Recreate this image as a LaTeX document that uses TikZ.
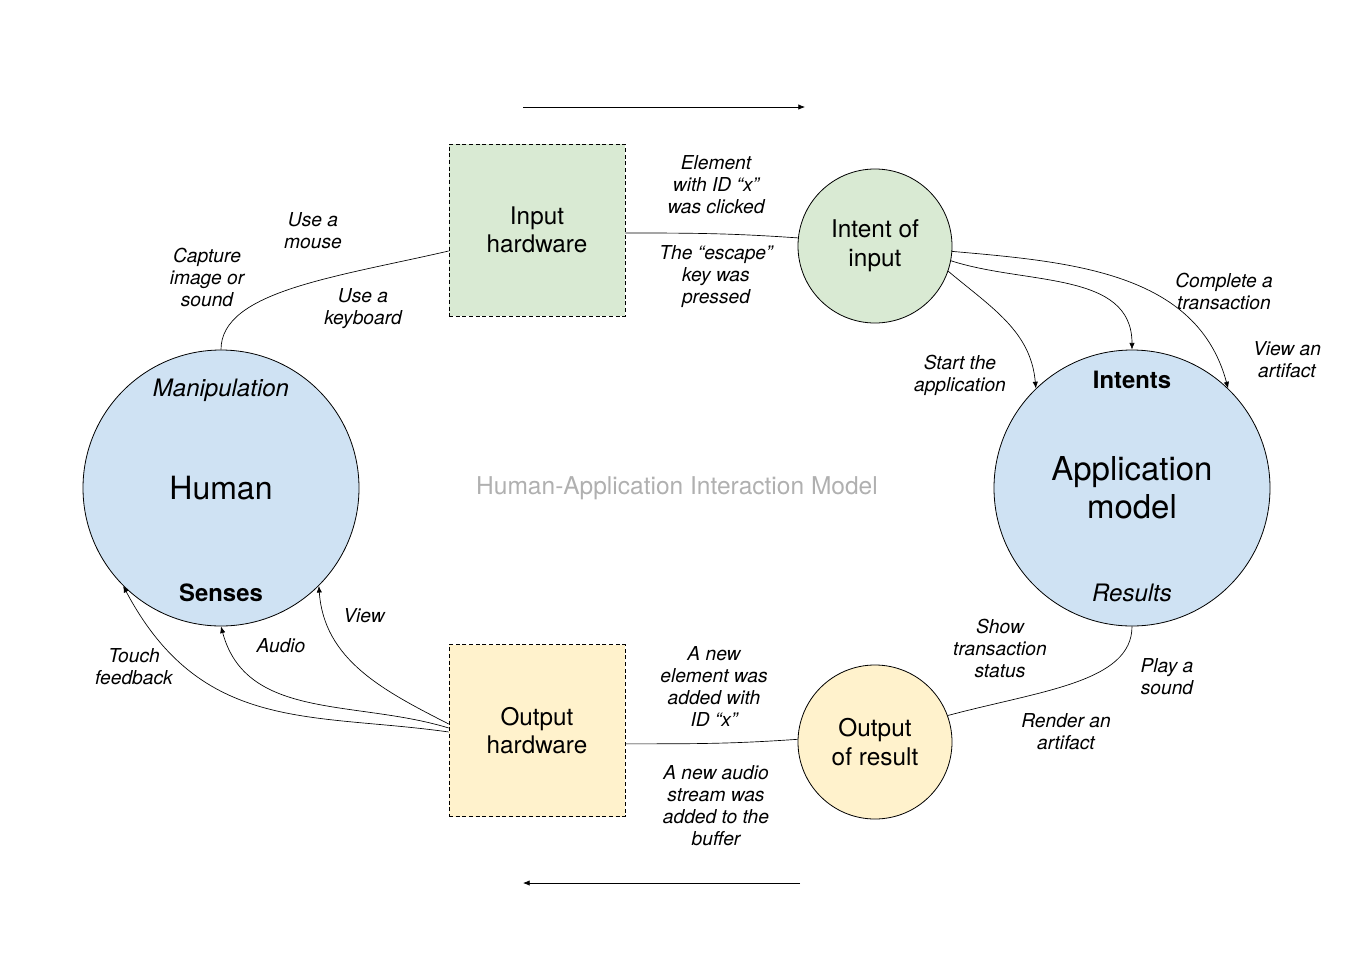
\documentclass[tikz,border=0pt]{standalone}
\usepackage{fontspec}
\setmainfont{TeX Gyre Heros}
\usepackage{tikz}
\usetikzlibrary{arrows.meta}
\usetikzlibrary{calc}
\definecolor{hwgreen}{HTML}{D9EAD3}
\definecolor{hwyellow}{HTML}{FFF2CC}
\definecolor{modelblue}{HTML}{CFE2F3}
\definecolor{titlegrey}{HTML}{B0B0B0}

\begin{document}
\begin{tikzpicture}[x=0.75pt, y=-0.75pt,
	big/.style={circle, draw, line width=0.6pt, fill=modelblue, minimum size=207pt, inner sep=0pt},
	small/.style={circle, draw, line width=0.6pt, minimum size=115.5pt, inner sep=0pt, align=center, font=\fontsize{18.3}{21.5}\selectfont},
	hw/.style={draw, dash pattern=on 3pt off 2pt, line width=0.5pt, minimum width=132pt, minimum height=129pt, align=center, font=\fontsize{18.2}{21}\selectfont},
	lbl/.style={align=center, font=\fontsize{14.4}{16.5}\selectfont\itshape},
	part/.style={font=\fontsize{18}{20}\selectfont},
	flow/.style={line width=0.5pt},
	tip/.style={-{Latex[length=5pt,width=4pt]}, line width=0.5pt}]
\useasboundingbox (0,0) rectangle (1354,975);

% main nodes
\node[big] (human) at (221,488) {};
\node[big] (app) at (1132,488) {};
\node[hw, fill=hwgreen] (inhw) at (537,230) {Input\\hardware};
\node[hw, fill=hwyellow] (outhw) at (537,730.5) {Output\\hardware};
\node[small, fill=hwgreen] (intent) at (875,246) {Intent of\\input};
\node[small, fill=hwyellow] (outr) at (875,742) {Output\\of result};

% texts inside the big circles
\node[part, font=\fontsize{24}{28}\selectfont] (humanname) at (human) {Human};
\node[part, font=\fontsize{18}{20}\selectfont\itshape] (manip) at (221,390) {Manipulation};
\node[part, font=\fontsize{17.9}{20}\selectfont\bfseries] (senses) at (221,593) {Senses};
\node[part, align=center, font=\fontsize{24.7}{28.5}\selectfont] (appname) at (app) {Application\\model};
\node[part, font=\fontsize{17.9}{20}\selectfont\bfseries] (intents) at (1132,380) {Intents};
\node[part, font=\fontsize{18}{20}\selectfont\itshape] (results) at (1132,593) {Results};

\node[font=\fontsize{18.4}{20}\selectfont, text=titlegrey] (title) at (677,488) {Human-Application Interaction Model};

% direction arrows
\coordinate (fwdA) at (523,107);
\coordinate (fwdB) at (805,107);
\coordinate (backA) at (800,883);
\coordinate (backB) at (523,883);
\draw[tip] (fwdA) -- (fwdB);
\draw[tip] (backA) -- (backB);

% input side
\draw[flow] (human.north) to[out=90,in=193,out looseness=0.6,in looseness=1.2] ([yshift=-15.75pt]inhw.west);
\draw[flow] ([yshift=-2.25pt]inhw.east) to[out=0,in=176] (intent.174);
\draw[tip] (intent.-4) to[out=-5,in=105] (app.46);
\draw[tip] (intent.-11) to[out=-18,in=90] (app.90);
\draw[tip] (intent.-19) to[out=-40,in=95] (app.134);

% output side
\draw[flow] (app.south) to[out=-90,in=15,out looseness=0.7,in looseness=1.2] (outr.20);
\draw[flow] ([yshift=-10pt]outhw.east) to[out=0,in=184] (outr.178);
\draw[tip] ([yshift=4.9pt]outhw.west) to[out=153,in=-86] (human.-45);
\draw[tip] ([yshift=1.9pt]outhw.west) to[out=163,in=-75] (human.south);
\draw[tip] ([yshift=-1.1pt]outhw.west) to[out=172,in=-62,in looseness=1.2] (human.-135);

% labels
\node[lbl] (mouse) at (313,231) {Use a\\mouse};
\node[lbl] (capture) at (207,277) {Capture\\image or\\sound};
\node[lbl] (keyboard) at (363,309) {Use a\\keyboard};
\node[lbl] (clicked) at (716,185) {Element\\with ID “x”\\was clicked};
\node[lbl] (escape) at (716,277) {The “escape”\\key was\\pressed};
\node[lbl] (transact) at (1224,291) {Complete a\\transaction};
\node[lbl] (viewart) at (1287,360) {View an\\artifact};
\node[lbl] (start) at (960,375) {Start the\\application};
\node[lbl] (view) at (364,616) {View};
\node[lbl] (audio) at (281,646) {Audio};
\node[lbl] (touch) at (134,667) {Touch\\feedback};
\node[lbl] (newelem) at (714,686) {A new\\element was\\added with\\ID “x”};
\node[lbl] (newaudio) at (716,806) {A new audio\\stream was\\added to the\\buffer};
\node[lbl] (status) at (1000,648) {Show\\transaction\\status};
\node[lbl] (sound) at (1167,677) {Play a\\sound};
\node[lbl] (render) at (1066,732) {Render an\\artifact};
\end{tikzpicture}
\end{document}
